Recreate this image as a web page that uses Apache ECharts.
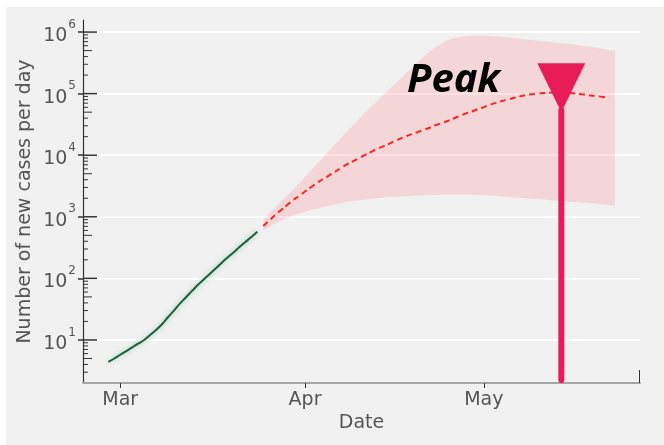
<!DOCTYPE html>
<html>
<head>
<meta charset="utf-8">
<script src="https://cdn.jsdelivr.net/npm/echarts@6/dist/echarts.min.js"></script>
<style>
  html, body { margin: 0; padding: 0; background: #fff; }
  #main { width: 664px; height: 445px; }
</style>
</head>
<body>
<div id="main"></div>
<script>
// reported new cases per day, one value per day from observedStart
var observedStart = '2020-02-28';
var observedCases = [4.4, 5.0, 5.75, 6.6, 7.6, 8.7, 10, 12, 14.5, 18,
  23.4, 30, 39, 49, 62, 78, 96, 118, 145, 178,
  219, 263, 324, 390, 470, 570];

// model forecast (median), one value per day from forecastStart
var forecastStart = '2020-03-25';
var forecastMedian = [708, 871, 1072, 1288, 1549, 1862, 2188, 2570, 3020, 3548,
  4074, 4677, 5370, 6166, 7079, 7943, 8913, 10000, 11220, 12590,
  13800, 15140, 16980, 18620, 20420, 22130, 23990, 26000, 28180, 30900,
  33500, 36300, 39800, 43650, 47860, 51290, 56230, 60260, 66070, 70790,
  75860, 80350, 85110, 90160, 94410, 97720, 100000, 102300, 103500, 104700,
  104700, 103500, 101200, 98850, 96600, 93300, 91200, 88100, 85100];

// uncertainty band, one value per day from forecastStart
var forecastUpper = [891, 1122, 1413, 1778, 2188, 2754, 3467, 4467, 5623, 7244,
  9120, 11750, 15140, 19050, 23990, 30200, 38020, 47860, 60260, 74130,
  93330, 114800, 141300, 173800, 218800, 269200, 331100, 407400, 489800, 575400,
  660700, 741300, 794300, 831800, 861000, 871000, 871000, 871000, 861000, 851000,
  832000, 813000, 794000, 776000, 759000, 741000, 724000, 708000, 692000, 676000,
  661000, 646000, 631000, 617000, 589000, 575000, 550000, 537000, 513000, 501000];
var forecastLower = [603, 692, 776, 871, 955, 1047, 1122, 1202, 1288, 1349,
  1445, 1514, 1585, 1660, 1738, 1820, 1862, 1905, 1950, 1995,
  2042, 2089, 2113, 2138, 2163, 2188, 2213, 2239, 2239, 2265,
  2291, 2291, 2291, 2291, 2291, 2291, 2265, 2239, 2213, 2188,
  2138, 2089, 2065, 2042, 1995, 1972, 1950, 1905, 1862, 1841,
  1820, 1778, 1738, 1718, 1698, 1660, 1622, 1585, 1549, 1514];

var monthTicks = ['2020-03-01', '2020-04-01', '2020-05-01'];
var monthNames = ['Jan', 'Feb', 'Mar', 'Apr', 'May', 'Jun', 'Jul', 'Aug', 'Sep', 'Oct', 'Nov', 'Dec'];
var yTicks = [10, 100, 1000, 10000, 100000, 1000000];
var minorSteps = [2, 3, 4, 5, 6, 7, 8, 9];

var peakDate = '2020-05-14';
var peakApex = 53700;

var font = 'DejaVu Sans';
var labelColor = '#555';
var peakColor = '#e81d58';

// x axis runs in days counted from 1 March 2020
var DAY = 86400000;
function parseDay(s) {
  var p = s.split('-');
  return Date.UTC(+p[0], +p[1] - 1, +p[2]);
}
var origin = parseDay('2020-03-01');
function dayIndex(s) { return Math.round((parseDay(s) - origin) / DAY); }
function daily(start, values) {
  var d0 = dayIndex(start);
  return values.map(function (v, i) { return [d0 + i, v]; });
}
function monthOf(d) { return monthNames[new Date(origin + d * DAY).getUTCMonth()]; }

var xMin = -6.25;
var xMax = 87.2;
var yMin = 2;
var yMax = 1570000;

var bandStart = dayIndex(forecastStart);
var peakDay = dayIndex(peakDate);
var monthDays = monthTicks.map(dayIndex);

function seg(x1, y1, x2, y2, color, w) {
  return { type: 'line', shape: { x1: x1, y1: y1, x2: x2, y2: y2 },
    style: { stroke: color, lineWidth: w || 1 } };
}

function renderBand(params, api) {
  var pts = [];
  for (var i = 0; i < forecastUpper.length; i++) pts.push(api.coord([bandStart + i, forecastUpper[i]]));
  for (var j = forecastLower.length - 1; j >= 0; j--) pts.push(api.coord([bandStart + j, forecastLower[j]]));
  return { type: 'polygon', shape: { points: pts }, style: { fill: 'rgba(255,120,130,0.22)' } };
}

// log minor ticks on the inner side of the y axis, like the original
function renderTicks(params, api) {
  var kids = [];
  for (var e = 0; e <= 6; e++) {
    minorSteps.forEach(function (m) {
      var v = m * Math.pow(10, e);
      if (v <= yMin || v >= yMax) return;
      var p = api.coord([xMin, v]);
      kids.push(seg(p[0], p[1], p[0] + (m === 5 ? 9 : 5), p[1], '#333'));
    });
  }
  yTicks.forEach(function (v) {
    var p = api.coord([xMin, v]);
    kids.push(seg(p[0], p[1], p[0] + 14, p[1], '#333', 1.5));
  });
  var q = api.coord([xMax, yMin]);
  kids.push(seg(q[0] - 0.5, q[1], q[0] - 0.5, q[1] - 13, '#333'));
  return { type: 'group', children: kids };
}

function renderPeak(params, api) {
  var base = api.coord([peakDay, yMin]);
  var apex = api.coord([peakDay, peakApex]);
  return { type: 'group', children: [
    { type: 'line', shape: { x1: base[0], y1: base[1] - 3, x2: apex[0], y2: apex[1] },
      style: { stroke: peakColor, lineWidth: 6, lineCap: 'round' } },
    { type: 'polygon', shape: { points: [[apex[0], apex[1] + 2], [apex[0] - 24, apex[1] - 47], [apex[0] + 24, apex[1] - 47]] },
      style: { fill: peakColor } }
  ] };
}

var chart = echarts.init(document.getElementById('main'));

var option = {
  animation: false,
  backgroundColor: '#fff',
  graphic: [
    { type: 'rect', left: 6, top: 7, z: -10, shape: { width: 658, height: 438 }, style: { fill: '#f1f1f1' } },
    { type: 'text', left: 407, top: 61, z: 100,
      style: { text: 'Peak', font: 'italic bold 40px "Noto Sans"', fill: '#000' } }
  ],
  grid: { left: 83, right: 24, top: 20, bottom: 62 },
  xAxis: {
    type: 'value',
    min: xMin,
    max: xMax,
    name: 'Date',
    nameLocation: 'middle',
    nameGap: 31,
    nameMoveOverlap: false,
    nameTextStyle: { color: labelColor, fontSize: 19, fontFamily: font },
    axisLine: { onZero: false, lineStyle: { color: '#a6a6a6', width: 2 } },
    axisTick: { show: true, length: 5, customValues: monthDays, lineStyle: { color: '#333' } },
    axisLabel: {
      customValues: monthDays,
      margin: 8,
      color: labelColor, fontSize: 19, fontFamily: font,
      formatter: function (v) { return monthOf(v); }
    },
    splitLine: { show: false }
  },
  yAxis: {
    type: 'log',
    logBase: 10,
    min: yMin,
    max: yMax,
    name: 'Number of new cases per day',
    nameLocation: 'middle',
    nameGap: 48,
    nameMoveOverlap: false,
    nameTextStyle: { color: labelColor, fontSize: 19, fontFamily: font },
    axisLine: { show: true, onZero: false, lineStyle: { color: '#333', width: 1.2 } },
    axisTick: { show: true, length: 5, customValues: yTicks, lineStyle: { color: '#333', width: 1.5 } },
    axisLabel: {
      customValues: yTicks,
      margin: 7,
      formatter: function (v) {
        return '{b|10}{s|' + Math.round(Math.log10(v)) + '}';
      },
      rich: {
        b: { color: labelColor, fontSize: 19, fontFamily: font, padding: [8, 0, 0, 0] },
        s: { color: labelColor, fontSize: 12, fontFamily: font, verticalAlign: 'top', padding: [0, 0, 0, 1] }
      }
    },
    splitLine: { show: true, lineStyle: { color: '#fff', width: 2 } }
  },
  series: [
    {
      type: 'custom',
      name: 'band',
      renderItem: renderBand,
      data: [[xMin, 10]],
      silent: true,
      z: 1
    },
    {
      type: 'line',
      name: 'observed',
      data: daily(observedStart, observedCases),
      smooth: true,
      symbol: 'none',
      lineStyle: { color: '#1d5f3c', width: 2, shadowColor: 'rgba(110,190,140,0.7)', shadowBlur: 5 },
      z: 3
    },
    {
      type: 'line',
      name: 'forecast',
      data: daily(forecastStart, forecastMedian),
      smooth: true,
      symbol: 'none',
      lineStyle: { color: '#ff2222', width: 2, type: [6, 4] },
      z: 3
    },
    {
      type: 'custom',
      name: 'ticks',
      renderItem: renderTicks,
      data: [[xMin, 10]],
      silent: true,
      z: 4
    },
    {
      type: 'custom',
      name: 'peak',
      renderItem: renderPeak,
      data: [[peakDay, peakApex]],
      silent: true,
      z: 5
    }
  ]
};

chart.setOption(option);
</script>
</body>
</html>
